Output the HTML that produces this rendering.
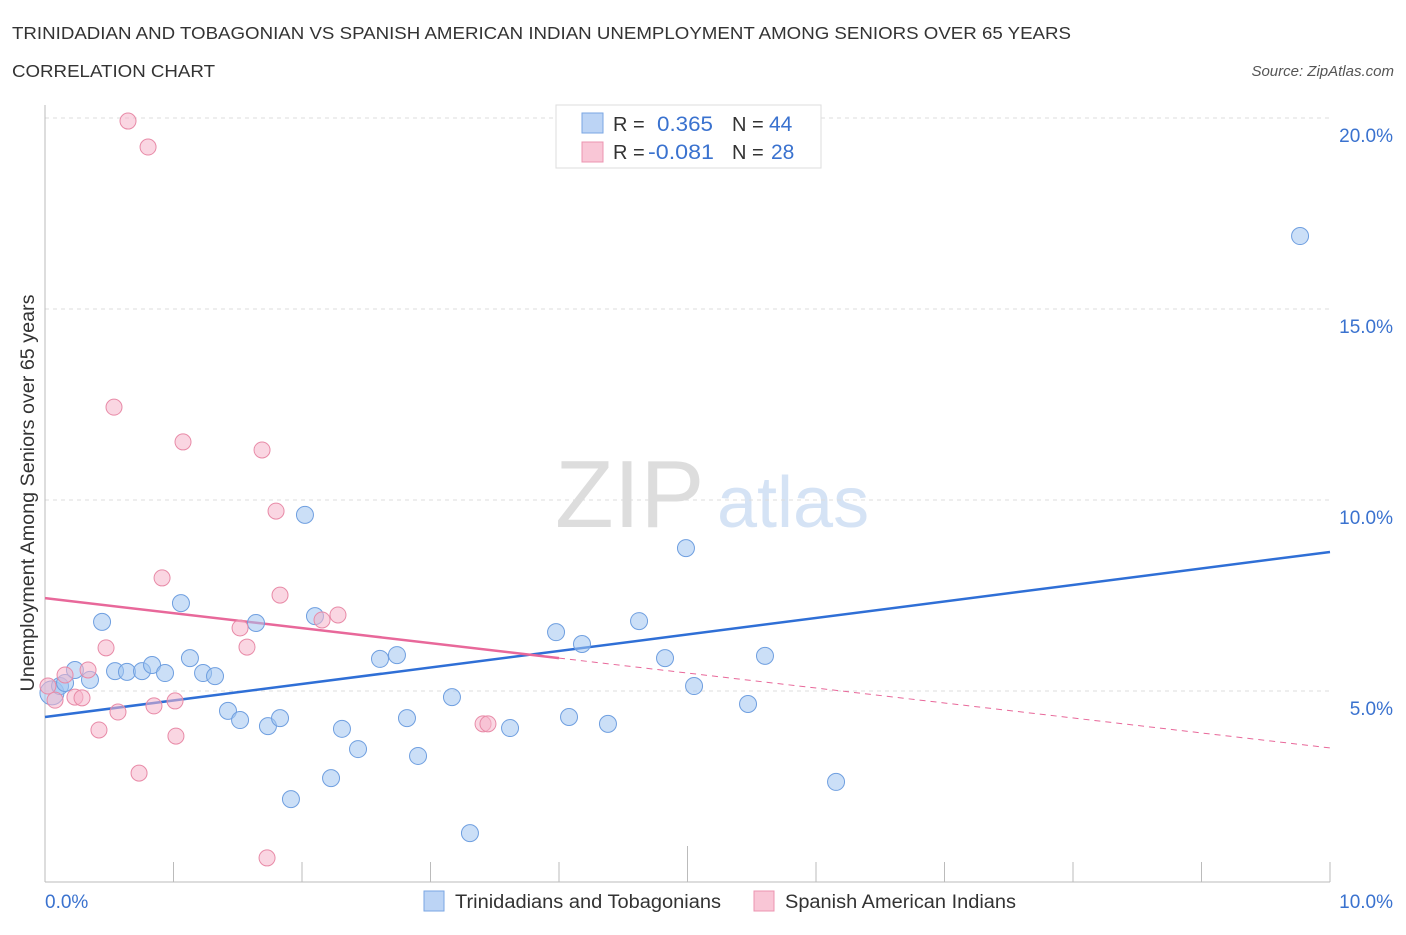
<!DOCTYPE html>
<html><head><meta charset="utf-8"><style>
body{margin:0;background:#fff;font-family:"Liberation Sans",sans-serif;}
svg text{font-family:"Liberation Sans",sans-serif;}
</style></head><body>
<svg id="chart" width="1406" height="930" xmlns="http://www.w3.org/2000/svg">
<text x="12" y="39" font-size="17.5" fill="#333" textLength="1059" lengthAdjust="spacingAndGlyphs">TRINIDADIAN AND TOBAGONIAN VS SPANISH AMERICAN INDIAN UNEMPLOYMENT AMONG SENIORS OVER 65 YEARS</text>
<text x="12" y="77" font-size="17.5" fill="#333" textLength="203" lengthAdjust="spacingAndGlyphs">CORRELATION CHART</text>
<text x="1394" y="76" font-size="15" fill="#555" font-style="italic" text-anchor="end">Source: ZipAtlas.com</text>
<text x="555" y="527" font-size="96" fill="#ddd" font-family="Liberation Serif,serif">ZIP</text>
<text x="717" y="527" font-size="72" fill="#d5e3f5">atlas</text>
<text transform="translate(34,493) rotate(-90)" font-size="19" fill="#333" text-anchor="middle" textLength="397" lengthAdjust="spacingAndGlyphs">Unemployment Among Seniors over 65 years</text>
<g id="grid"></g><g id="ticks"></g><g id="lines"></g><g id="pts"></g>
<rect x="556" y="105" width="265" height="63" fill="#fff" stroke="#ddd"/>
<rect x="582" y="113" width="21" height="20" fill="#bcd4f5" stroke="#7aa6e3"/>
<rect x="582" y="142" width="21" height="20" fill="#f9c6d6" stroke="#ec94b0"/>
<text x="613" y="131" font-size="20" fill="#333">R =</text><text x="657" y="131" font-size="21" fill="#3a72cf" textLength="56" lengthAdjust="spacingAndGlyphs">0.365</text>
<text x="732" y="131" font-size="20" fill="#333">N =</text><text x="769" y="131" font-size="21" fill="#3a72cf">44</text>
<text x="613" y="159" font-size="20" fill="#333">R =</text><text x="648" y="159" font-size="21" fill="#3a72cf" textLength="66" lengthAdjust="spacingAndGlyphs">-0.081</text>
<text x="732" y="159" font-size="20" fill="#333">N =</text><text x="771" y="159" font-size="21" fill="#3a72cf">28</text>
<rect x="424" y="891" width="20" height="20" fill="#bcd4f5" stroke="#7aa6e3"/>
<text x="455" y="908" font-size="19" fill="#333" textLength="266" lengthAdjust="spacingAndGlyphs">Trinidadians and Tobagonians</text>
<rect x="754" y="891" width="20" height="20" fill="#f9c6d6" stroke="#ec94b0"/>
<text x="785" y="908" font-size="19" fill="#333" textLength="231" lengthAdjust="spacingAndGlyphs">Spanish American Indians</text>
</svg>
<script>
const blueX=[0.054,0.117,0.156,0.233,0.35,0.444,0.545,0.638,0.755,0.833,0.934,1.058,1.128,1.23,1.323,1.424,1.518,1.642,1.735,1.829,1.914,2.023,2.101,2.226,2.311,2.436,2.607,2.739,2.817,2.903,3.167,3.307,3.619,3.977,4.078,4.179,4.381,4.623,4.825,4.988,5.051,5.471,5.603,6.156,9.767];
const blueY=[4.95,5.13,5.21,5.55,5.29,6.81,5.52,5.5,5.52,5.68,5.47,7.3,5.86,5.47,5.39,4.48,4.24,6.78,4.08,4.29,2.17,9.61,6.96,2.72,4.01,3.48,5.84,5.94,4.29,3.3,4.84,1.28,4.03,6.54,4.32,6.23,4.14,6.83,5.86,8.74,5.13,4.66,5.92,2.62,16.91];
const pinkX=[0.023,0.078,0.156,0.233,0.288,0.335,0.42,0.475,0.568,0.537,0.646,0.732,0.802,0.848,0.911,1.012,1.019,1.074,1.518,1.572,1.689,1.728,1.798,1.829,2.156,2.28,3.409,3.447];
const pinkY=[5.13,4.76,5.42,4.84,4.82,5.55,3.98,6.13,4.45,12.43,19.92,2.85,19.24,4.61,7.96,4.74,3.82,11.52,6.65,6.15,11.31,0.63,9.71,7.51,6.86,6.99,4.14,4.14];
const yTicks=[5,10,15,20];
const yTickLabels=["5.0%","10.0%","15.0%","20.0%"];
const xTickLabels=["0.0%","10.0%"];
const blueFit=[4.32,8.64];
const pinkFit=[7.43,3.51];
const NS="http://www.w3.org/2000/svg";
const sx=v=>45+v*128.5, sy=v=>882-v*38.2;
function mk(p,t,a){const e=document.createElementNS(NS,t);for(const k in a)e.setAttribute(k,a[k]);document.getElementById(p).appendChild(e);return e;}
yTicks.forEach((t,i)=>{
 const g=mk('grid','line',{x1:45,x2:1330,y1:sy(t),y2:sy(t),stroke:'#ddd','stroke-dasharray':'4,4'});
 
 
 const l=mk('grid','text',{x:1393,y:sy(t)+24,'font-size':19,fill:'#3a72cf','text-anchor':'end'});l.textContent=yTickLabels[i];
 
 
});
const ax=mk('ticks','line',{x1:45,x2:45,y1:105,y2:882,stroke:'#bbb'});


const bx=mk('ticks','line',{x1:45,x2:1330,y1:882,y2:882,stroke:'#bbb'});


for(let i=0;i<=10;i++){const t=mk('ticks','line',{x1:sx(i),x2:sx(i),y1:882,y2:i==5?846:862,stroke:'#bbb'});
 
 }
[[0,'start',45],[10,'end',1393]].forEach(([v,a,x],i)=>{const t=mk('ticks','text',{x:x,y:908,'font-size':19,fill:'#3a72cf','text-anchor':a});t.textContent=xTickLabels[i];
 
 });
const bl=mk('lines','line',{x1:sx(0),y1:sy(blueFit[0]),x2:sx(10),y2:sy(blueFit[1]),stroke:'#2f6fd6','stroke-width':2.5});


const pm=v=>pinkFit[0]+(pinkFit[1]-pinkFit[0])*v/10;
const pl=mk('lines','line',{x1:sx(0),y1:sy(pm(0)),x2:sx(4),y2:sy(pm(4)),stroke:'#e8689a','stroke-width':2.5});


const pd=mk('lines','line',{x1:sx(4),y1:sy(pm(4)),x2:sx(10),y2:sy(pm(10)),stroke:'#e8689a','stroke-width':1,'stroke-dasharray':'6,5'});


blueX.forEach((x,i)=>{const c=mk('pts','circle',{cx:sx(x),cy:sy(blueY[i]),r:i==0?12:8.5,fill:'rgba(160,196,240,0.55)',stroke:'#6f9fe0','stroke-width':1});
 
 });
pinkX.forEach((x,i)=>{const c=mk('pts','circle',{cx:sx(x),cy:sy(pinkY[i]),r:8,fill:'rgba(245,180,202,0.55)',stroke:'#e88aa7','stroke-width':1});
 
 });
</script>
</body></html>
